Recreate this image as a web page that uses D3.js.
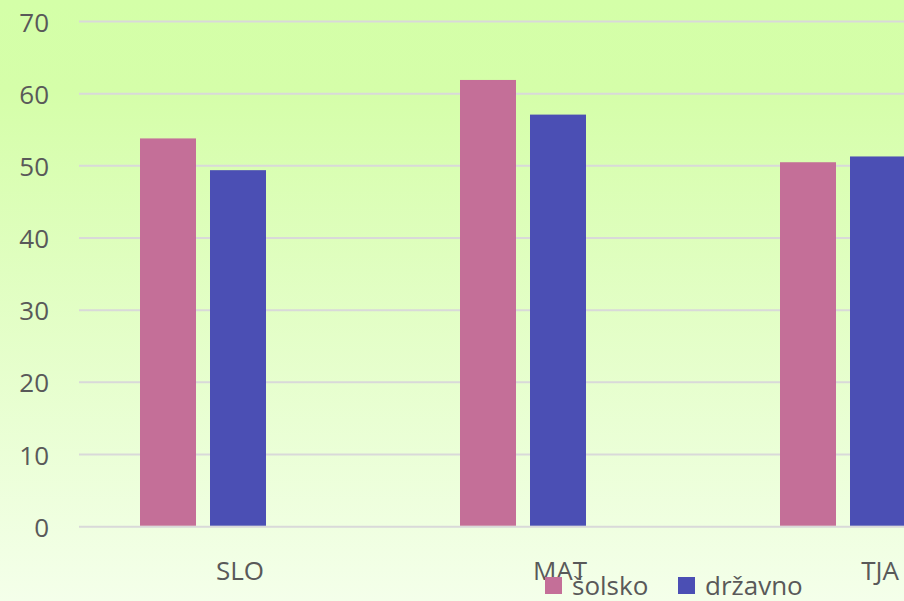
<!DOCTYPE html>
<html>
<head>
<meta charset="utf-8">
<script src="https://cdn.jsdelivr.net/npm/d3@7"></script>
<style>
  body { margin: 0; }
  svg { display: block; }
</style>
</head>
<body>
<div id="chart"></div>
<script>
// data
var categories = ["SLO", "MAT", "TJA"];
var series = ["šolsko", "državno"];
var solsko = [53.8, 61.9, 50.5];
var drzavno = [49.4, 57.1, 51.3];
var yTicks = [0, 10, 20, 30, 40, 50, 60, 70];
var colors = ["#c46f98", "#4b4fb4"];

var width = 904;
var height = 601;

var svg = d3.select("#chart").append("svg")
  .attr("width", width)
  .attr("height", height);

// background gradient
var grad = svg.append("defs").append("linearGradient")
  .attr("id", "bg")
  .attr("x1", 0).attr("y1", 0)
  .attr("x2", 0).attr("y2", 1);
grad.append("stop").attr("offset", "0%").attr("stop-color", "#d4ffa8");
grad.append("stop").attr("offset", "15%").attr("stop-color", "#d5fea9");
grad.append("stop").attr("offset", "100%").attr("stop-color", "#f4ffea");

svg.append("rect")
  .attr("width", width)
  .attr("height", height)
  .attr("fill", "url(#bg)");

var y = d3.scaleLinear().domain([0, 70]).range([526.7, 21.5]);

var x0 = d3.scaleBand().domain(categories).range([80, 1040]).padding(0);
var x1 = d3.scaleBand().domain(series).range([60, 186]).paddingInner(0.2).paddingOuter(0);

// gridlines
svg.append("g").selectAll("line")
  .data(yTicks)
  .enter().append("line")
  .attr("x1", 79)
  .attr("x2", width)
  .attr("y1", function(d) { return y(d); })
  .attr("y2", function(d) { return y(d); })
  .attr("stroke", "#d9d9d9")
  .attr("stroke-width", 2);

// y tick labels
svg.append("g").selectAll("text")
  .data(yTicks)
  .enter().append("text")
  .attr("x", 49)
  .attr("y", function(d) { return y(d) + 10; })
  .attr("text-anchor", "end")
  .style("font-family", "'Open Sans', sans-serif")
  .style("font-size", "26px")
  .style("fill", "#595959")
  .text(function(d) { return d; });

// bars
var rows = categories.map(function(c, i) {
  return { cat: c, values: [solsko[i], drzavno[i]] };
});

var groups = svg.append("g").selectAll("g")
  .data(rows)
  .enter().append("g")
  .attr("transform", function(d) { return "translate(" + x0(d.cat) + ",0)"; });

groups.selectAll("rect")
  .data(function(d) { return d.values.map(function(v, j) { return { key: series[j], value: v, idx: j }; }); })
  .enter().append("rect")
  .attr("x", function(d) { return x1(d.key); })
  .attr("width", x1.bandwidth())
  .attr("y", function(d) { return y(d.value); })
  .attr("height", function(d) { return y(0) - y(d.value) - 1; })
  .attr("fill", function(d) { return colors[d.idx]; });

// category labels
svg.append("g").selectAll("text")
  .data(categories)
  .enter().append("text")
  .attr("x", function(d) { return x0(d) + x0.bandwidth() / 2; })
  .attr("y", 580)
  .attr("text-anchor", "middle")
  .style("font-family", "'Open Sans', sans-serif")
  .style("font-size", "26px")
  .style("fill", "#595959")
  .text(function(d) { return d; });

// legend
var legendX = [545, 678];
var legend = svg.append("g").selectAll("g")
  .data(series)
  .enter().append("g")
  .attr("transform", function(d, i) { return "translate(" + legendX[i] + ",577)"; });

legend.append("rect")
  .attr("width", 17)
  .attr("height", 17)
  .attr("fill", function(d, i) { return colors[i]; });

legend.append("text")
  .attr("x", 27)
  .attr("y", 18)
  .style("font-family", "'Open Sans', sans-serif")
  .style("font-size", "26px")
  .style("fill", "#595959")
  .text(function(d) { return d; });
</script>
</body>
</html>
